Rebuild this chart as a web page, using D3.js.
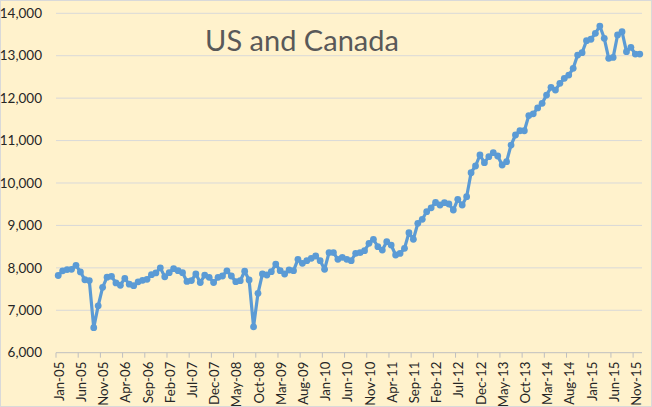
<!DOCTYPE html>
<html><head><meta charset="utf-8">
<script src="https://cdn.jsdelivr.net/npm/d3@7"></script>
<style>html,body{margin:0;padding:0;background:#fff;}svg{display:block;}</style>
</head><body>
<script>
const title = "US and Canada";
const monthNames = ["Jan","Feb","Mar","Apr","May","Jun","Jul","Aug","Sep","Oct","Nov","Dec"];
const years = ["05","06","07","08","09","10","11","12","13","14","15"];
const categories = [];
years.forEach(y => monthNames.forEach(m => categories.push(m + "-" + y)));
const values = [
 7820,7930,7960,7965,8060,7905,7720,7700,6590,7105,7540,7780,
 7800,7645,7590,7750,7615,7580,7670,7705,7730,7840,7880,8000,
 7790,7886,7980,7933,7886,7680,7700,7855,7655,7830,7777,7655,
 7777,7808,7930,7808,7673,7697,7920,7714,6610,7400,7855,7831,
 7909,8090,7933,7855,7949,7933,8201,8107,8168,8225,8279,8168,
 7966,8357,8357,8201,8248,8201,8168,8343,8357,8404,8578,8673,
 8498,8420,8616,8538,8303,8340,8460,8828,8673,9050,9144,9323,
 9415,9540,9481,9536,9505,9363,9615,9481,9677,10243,10401,10660,
 10479,10621,10715,10636,10424,10502,10895,11131,11232,11232,11590,11630,
 11770,11878,12073,12255,12191,12349,12467,12545,12703,13016,13071,13354,
 13388,13529,13700,13410,12938,12961,13490,13568,13095,13199,13040,13040
];
const yTicks = [6000,7000,8000,9000,10000,11000,12000,13000,14000];
const labelEvery = 5;

const W = 652, H = 407;
const svg = d3.select("body").append("svg").attr("width", W).attr("height", H);
svg.append("rect").attr("x",0.5).attr("y",0.5).attr("width",W-1).attr("height",H-1)
  .attr("fill","#FFF2CC").attr("stroke","#D9D9D9");

const x = d3.scaleBand().domain(categories).range([56, 642]).padding(0);
const y = d3.scaleLinear().domain([6000, 14000]).range([352.7, 13.3]);

// gridlines
svg.append("g").selectAll("line").data(yTicks.filter(t => t > 6000)).join("line")
  .attr("x1", 56).attr("x2", 642)
  .attr("y1", d => y(d)).attr("y2", d => y(d))
  .attr("stroke", "#D9D9D9").attr("stroke-width", 1);

// y labels
svg.append("g").selectAll("text").data(yTicks).join("text")
  .attr("x", 42).attr("y", d => y(d)).attr("dy", "0.35em")
  .attr("text-anchor", "end")
  .attr("font-family", "Lato, 'Open Sans', sans-serif").attr("font-size", 13.5)
  .attr("fill", "#262626")
  .text(d => d3.format(",")(d));

// x axis line
svg.append("line").attr("x1", 56).attr("x2", 642).attr("y1", y(6000)).attr("y2", y(6000))
  .attr("stroke", "#BFBFBF").attr("stroke-width", 1);

const labelCats = categories.filter((c, i) => i % labelEvery === 0);
svg.append("g").selectAll("line").data(labelCats).join("line")
  .attr("x1", d => x(d)).attr("x2", d => x(d))
  .attr("y1", y(6000)).attr("y2", y(6000) + 5)
  .attr("stroke", "#BFBFBF");

svg.append("g").selectAll("text").data(labelCats).join("text")
  .attr("transform", d => `translate(${x(d) + x.bandwidth()/2 + 1},${y(6000) + 9}) rotate(-90)`)
  .attr("text-anchor", "end").attr("dy", "0.35em")
  .attr("font-family", "Lato, 'Open Sans', sans-serif").attr("font-size", 13.2)
  .attr("fill", "#262626")
  .text(d => d);

// line
const pts = categories.map((c, i) => ({c, v: values[i]}));
const line = d3.line().x(d => x(d.c) + x.bandwidth()/2).y(d => y(d.v));
svg.append("path").datum(pts).attr("d", line)
  .attr("fill", "none").attr("stroke", "#5B9BD5").attr("stroke-width", 3.2)
  .attr("stroke-linejoin", "round");
svg.append("g").selectAll("circle").data(pts).join("circle")
  .attr("cx", d => x(d.c) + x.bandwidth()/2).attr("cy", d => y(d.v)).attr("r", 3.4)
  .attr("fill", "#5B9BD5");

// title
svg.append("text").attr("x", 302).attr("y", 51)
  .attr("text-anchor", "middle")
  .attr("font-family", "Lato, 'Open Sans', sans-serif").attr("font-size", 29)
  .attr("fill", "#595959")
  .text(title);
</script>
</body></html>
